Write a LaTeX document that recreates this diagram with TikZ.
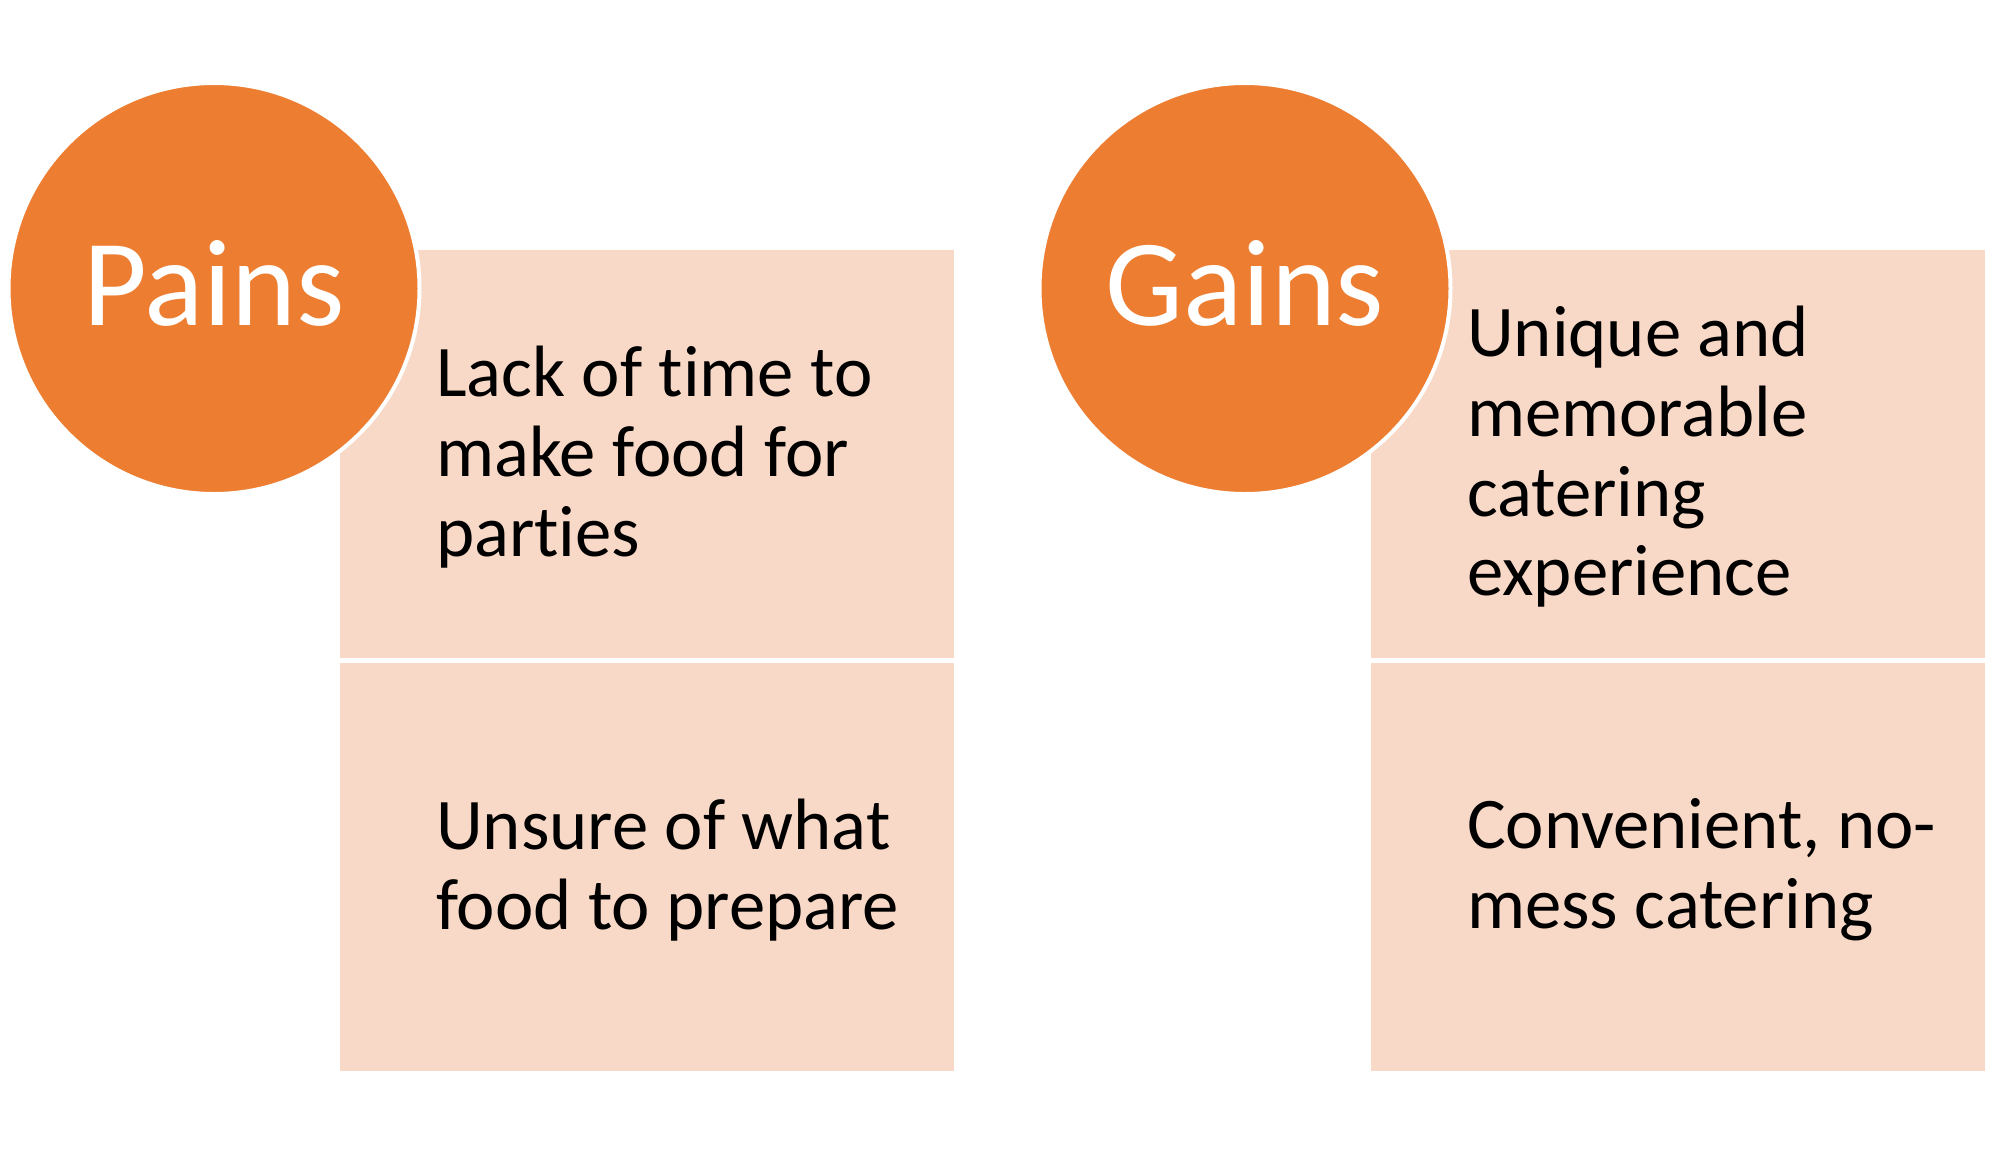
\documentclass[tikz,border=0pt]{standalone}
\usepackage{fontspec}
\setmainfont{Carlito}[Ligatures=NoCommon]
\definecolor{orng}{HTML}{ED7D31}
\definecolor{peach}{HTML}{F8D9C7}
\begin{document}
\begin{tikzpicture}[x=1bp,y=-1bp,
  box/.style={fill=peach, draw=none, inner sep=0, outer sep=0, minimum width=614bp, minimum height=408bp, anchor=north west},
  circ/.style={circle, fill=orng, draw=white, line width=4bp, minimum size=411bp, inner sep=0, outer sep=0},
  circtxt/.style={text=white, inner sep=0, font=\fontsize{124}{130}\selectfont},
  txt/.style={anchor=west, align=left, text=black, inner sep=0, font=\fontsize{73}{80}\selectfont}]
\useasboundingbox (0,0) rectangle (1990,1155);
% Pains group
\node[box] (p1) at (340,250) {};
\node[box] (p2) at (340,663) {};
\node[circ] (pains) at (214,288.5) {};
\node[circtxt] (painst) at ([yshift=5bp]pains.center) {Pains};
\node[txt] (pt1) at ([xshift=96bp,yshift=-3bp]p1.west) {Lack of time to\\make food for\\parties};
\node[txt] (pt2) at ([xshift=96bp,yshift=-3bp]p2.west) {Unsure of what\\food to prepare};
% Gains group
\node[box] (g1) at (1371,250) {};
\node[box] (g2) at (1371,663) {};
\node[circ] (gains) at (1245,288.5) {};
\node[circtxt] (gainst) at ([yshift=5bp]gains.center) {Gains};
\node[txt] (gt1) at ([xshift=96bp,yshift=-3bp]g1.west) {Unique and\\memorable\\catering\\experience};
\node[txt] (gt2) at ([xshift=96bp,yshift=-3bp]g2.west) {Convenient, no-\\mess catering};
\end{tikzpicture}
\end{document}
